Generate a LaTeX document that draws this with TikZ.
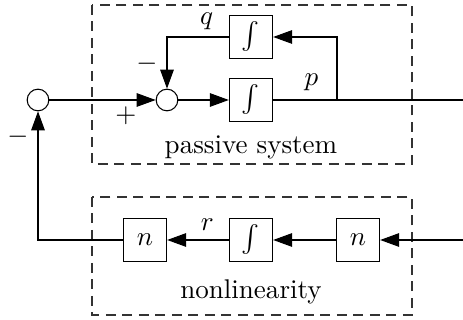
\documentclass[tikz,border=0pt]{standalone}
\usetikzlibrary{arrows.meta}
\tikzstyle{block} = [rectangle, draw=black, minimum size=16pt, inner sep=0pt]
\tikzstyle{sum} = [circle, draw=black, minimum size=8pt, inner sep=0pt]
\tikzstyle{frame} = [draw=black!80, dash pattern=on 3.7pt off 2.4pt]
\tikzstyle{arrow} = [-{Triangle[length=7pt,width=5pt]}]

\begin{document}
\begin{tikzpicture}[x=0.013cm, y=-0.013cm]
\useasboundingbox (0,0) rectangle (463,320);

% frames
\draw [frame] (92,5) rectangle (412,164);
\draw [frame] (92,197) rectangle (412,315);
\node (passive) at (251,147) {passive system};
\node (nonlin) at (251,292) {nonlinearity};

% passive system
\node (sumin) [sum] at (38,100) {};
\node (sumfb) [sum] at (167,100) {};
\node (intq) [block] at (251,37) {$\int$};
\node (intp) [block] at (251,100) {$\int$};
\coordinate (split) at (337,100);
\coordinate (out) at (463,100);

\draw [arrow] (sumin) -- node[pos=0.72, below=-1pt] {$+$} (sumfb);
\draw [arrow] (sumfb) -- (intp);
\draw (intp) -- node[pos=0.6, above] {$p$} (split) -- (out);
\draw [arrow] (split) |- (intq);
\draw [arrow] (intq) -| node[pos=0.18, above=-1pt] {$q$} node[pos=0.76, left] {$-$} (sumfb);

% nonlinearity
\node (nleft) [block] at (145,240) {$n$};
\node (intr) [block] at (251,240) {$\int$};
\node (nright) [block] at (358,240) {$n$};
\coordinate (in) at (463,240);

\draw [arrow] (in) -- (nright);
\draw [arrow] (nright) -- (intr);
\draw [arrow] (intr) -- node[pos=0.35, above] {$r$} (nleft);
\draw [arrow] (nleft) -| node[pos=0.9, left] {$-$} (sumin);

\end{tikzpicture}
\end{document}
